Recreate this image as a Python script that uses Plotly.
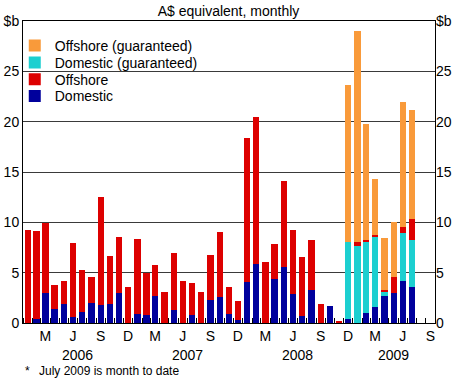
import plotly.graph_objects as go

months = [
    "2006-01-01", "2006-02-01", "2006-03-01", "2006-04-01", "2006-05-01", "2006-06-01",
    "2006-07-01", "2006-08-01", "2006-09-01", "2006-10-01", "2006-11-01", "2006-12-01",
    "2007-01-01", "2007-02-01", "2007-03-01", "2007-04-01", "2007-05-01", "2007-06-01",
    "2007-07-01", "2007-08-01", "2007-09-01", "2007-10-01", "2007-11-01", "2007-12-01",
    "2008-01-01", "2008-02-01", "2008-03-01", "2008-04-01", "2008-05-01", "2008-06-01",
    "2008-07-01", "2008-08-01", "2008-09-01", "2008-10-01", "2008-11-01", "2008-12-01",
    "2009-01-01", "2009-02-01", "2009-03-01", "2009-04-01", "2009-05-01", "2009-06-01",
    "2009-07-01",
]

domestic = [
    0.00, 0.40, 2.95, 1.36, 1.89, 0.63, 1.06, 1.99, 1.79, 1.89, 2.98, 0.00,
    0.89, 0.79, 2.73, 0.00, 1.32, 0.00, 0.79, 0.00, 2.32, 2.62, 0.86, 0.33,
    4.04, 5.86, 0.00, 4.34, 5.53, 2.91, 0.73, 3.25, 0.00, 1.72, 0.00, 0.43,
    0.00, 1.03, 1.62, 2.65, 2.98, 4.14, 3.61,
]
domestic_guar = [
    0, 0, 0, 0, 0, 0, 0, 0, 0, 0, 0, 0,
    0, 0, 0, 0, 0, 0, 0, 0, 0, 0, 0, 0,
    0, 0, 0, 0, 0, 0, 0, 0, 0, 0, 0, 7.62,
    7.68, 6.98, 6.96, 0.46, 0.00, 4.80, 4.60,
]
offshore = [
    9.27, 8.74, 6.95, 2.41, 2.31, 7.32, 4.17, 2.61, 10.76, 4.80, 5.60, 3.54,
    7.49, 4.21, 3.06, 3.05, 5.63, 4.20, 3.18, 3.05, 4.47, 6.42, 2.74, 1.89,
    14.34, 14.57, 6.03, 3.54, 8.57, 6.29, 5.86, 5.03, 1.89, 0.00, 0.13, 0.00,
    0.37, 0.24, 0.19, 0.20, 1.62, 0.63, 2.09,
]
offshore_guar = [
    0, 0, 0, 0, 0, 0, 0, 0, 0, 0, 0, 0,
    0, 0, 0, 0, 0, 0, 0, 0, 0, 0, 0, 0,
    0, 0, 0, 0, 0, 0, 0, 0, 0, 0, 0, 15.55,
    20.98, 11.54, 5.50, 5.17, 5.43, 12.43, 10.88,
]

month_tick_dates = [
    "2006-03-16", "2006-06-16", "2006-09-16", "2006-12-16",
    "2007-03-16", "2007-06-16", "2007-09-16", "2007-12-16",
    "2008-03-16", "2008-06-16", "2008-09-16", "2008-12-16",
    "2009-03-16", "2009-06-16", "2009-09-16",
]
month_tick_labels = ["M", "J", "S", "D"] * 3 + ["M", "J", "S"]
year_labels = ["2006", "2007", "2008", "2009"]
year_label_dates = ["2006-07-02", "2007-07-02", "2008-07-02", "2009-05-16"]

y_tickvals = [0, 5, 10, 15, 20, 25, 30]
y_ticktext = ["0", "5", "10", "15", "20", "25", "$b"]

FONT = "Arial, 'Liberation Sans', sans-serif"
C_DOM = "#00009C"
C_DOMG = "#1CCFD0"
C_OFF = "#DD0000"
C_OFFG = "#F99A3A"

PLOT_TOP, PLOT_H = 21, 302

def py(px):
    return 1 - (px - PLOT_TOP) / PLOT_H

fig = go.Figure()
# stacking order bottom-up; each series gets its own legend slot
series = [
    ("Domestic", domestic, C_DOM, "legend4"),
    ("Domestic (guaranteed)", domestic_guar, C_DOMG, "legend2"),
    ("Offshore", offshore, C_OFF, "legend3"),
    ("Offshore (guaranteed)", offshore_guar, C_OFFG, "legend"),
]
for name, vals, col, lg in series:
    fig.add_trace(go.Bar(
        x=months, y=vals, name=name, marker=dict(color=col, line=dict(width=0)),
        xperiod="M1", xperiodalignment="middle", legend=lg,
    ))

fig.add_trace(go.Scatter(x=[months[0]], y=[None], yaxis="y2", showlegend=False,
                         hoverinfo="skip", mode="markers"))

LEG_X = -0.02
legend_common = dict(x=LEG_X, xanchor="left", yanchor="middle",
                     bgcolor="rgba(0,0,0,0)", font=dict(size=14, family=FONT))

fig.update_layout(
    width=457, height=380,
    margin=dict(l=23, r=22, t=21, b=57, autoexpand=False),
    barmode="stack", bargap=0.3,
    plot_bgcolor="white", paper_bgcolor="white",
    font=dict(family=FONT, size=14, color="black"),
    title=dict(text="A$ equivalent, monthly", x=0.5, xanchor="center",
               y=1 - 11 / 380, yanchor="middle", yref="container",
               font=dict(size=14, family=FONT, color="black")),
    showlegend=True,
    legend=dict(y=py(46), **legend_common),
    legend2=dict(y=py(62.8), **legend_common),
    legend3=dict(y=py(79.6), **legend_common),
    legend4=dict(y=py(96.3), **legend_common),
    xaxis=dict(
        type="date", range=["2006-01-01", "2009-10-01"], automargin=False,
        tickmode="array", tickvals=month_tick_dates, ticktext=month_tick_labels,
        ticks="", showgrid=False, showline=True, mirror=True,
        linecolor="black", linewidth=1, zeroline=False,
        minor=dict(ticks="inside", dtick="M1", tick0="2006-01-01", ticklen=5,
                   tickcolor="black", tickwidth=1, showgrid=False),
        tickfont=dict(size=14),
    ),
    yaxis=dict(
        range=[0, 30], tickmode="array", tickvals=y_tickvals, ticktext=y_ticktext,
        ticks="", showgrid=True, gridcolor="#3a3a3a", gridwidth=1, automargin=False,
        showline=True, mirror=True, linecolor="black", linewidth=1,
        zeroline=False, tickfont=dict(size=14),
    ),
    yaxis2=dict(
        range=[0, 30], overlaying="y", side="right", tickmode="array", automargin=False,
        tickvals=y_tickvals, ticktext=y_ticktext, ticks="", showgrid=False,
        zeroline=False, showline=False, tickfont=dict(size=14),
    ),
)

for lab, d in zip(year_labels, year_label_dates):
    fig.add_annotation(x=d, y=py(355), xref="x", yref="paper",
                       text=lab, showarrow=False, font=dict(size=14, family=FONT),
                       xanchor="center", yanchor="middle")

fig.add_annotation(x=(27 - 23) / 412, y=py(371), xref="paper", yref="paper",
                   text="*", showarrow=False, font=dict(size=12, family=FONT),
                   xanchor="center", yanchor="middle")
fig.add_annotation(x=(37 - 23) / 412, y=py(371), xref="paper", yref="paper",
                   text="July 2009 is month to date", showarrow=False,
                   font=dict(size=12, family=FONT), xanchor="left", yanchor="middle")

fig.write_html("out.html",
               config={"displayModeBar": False},
               post_script="document.body.style.margin='0';"
                           "document.body.style.overflow='hidden';")
